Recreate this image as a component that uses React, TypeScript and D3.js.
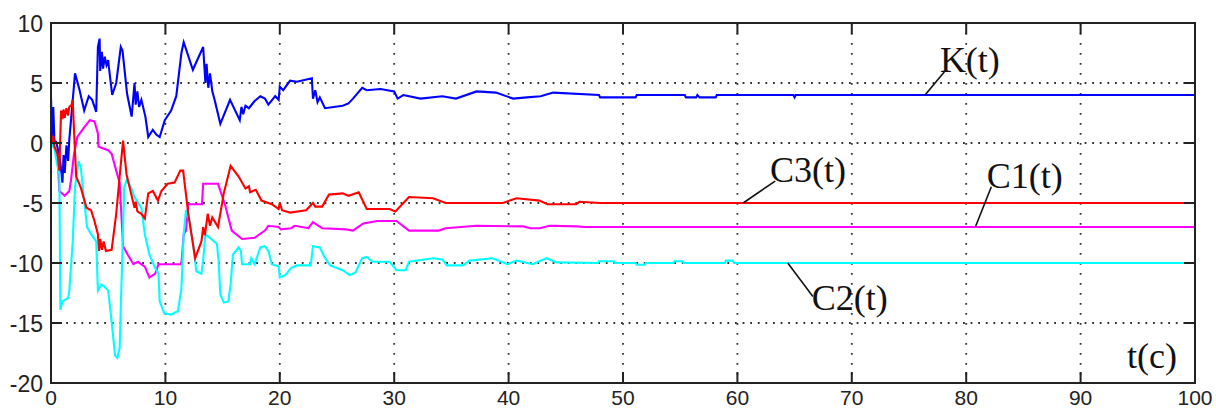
import React, { useRef, useEffect } from 'react';
import * as d3 from 'd3';

// K(t) - blue
const kData: [number, number][] = [
  [0, 3.8], [0.1, 0.5], [0.2, 3.0], [0.3, 0.2], [0.45, 0.1], [0.6, -0.5], [0.8, -1.5], [1.0, -3.3],
  [1.1, -1.0], [1.2, -2.5], [1.35, -0.2], [1.5, -1.5], [1.6, 0.3], [1.75, 1.9], [2.1, 5.8], [2.5, 4.4],
  [2.9, 2.7], [3.3, 3.9], [3.6, 3.6], [3.95, 2.6], [4.1, 8.0], [4.25, 8.7], [4.3, 6.0], [4.45, 7.6],
  [4.55, 6.2], [4.7, 7.2], [4.85, 6.5], [5.0, 6.9], [5.05, 6.4], [5.35, 4.0], [5.7, 5.0], [6.1, 8.0],
  [6.25, 7.7], [6.65, 4.1], [7.05, 2.2], [7.3, 5.0], [7.4, 3.2], [7.55, 4.3], [7.7, 3.0], [7.9, 3.6],
  [8.25, 2.2], [8.5, 0.5], [8.9, 1.1], [9.2, 0.7], [9.5, 0.5], [9.95, 1.9], [10.5, 2.7], [10.95, 3.9],
  [11.4, 7.5], [11.6, 8.4], [12.4, 6.1], [13.3, 8.0], [13.5, 5.0], [13.6, 6.6], [13.75, 4.6], [13.9, 5.8],
  [14.1, 4.3], [14.3, 3.6], [14.8, 1.6], [15.65, 3.6], [16.5, 1.9], [16.65, 3.0], [16.8, 2.4], [17.0, 3.1],
  [17.3, 2.9], [17.8, 3.5], [18.3, 3.9], [18.7, 3.7], [19.0, 3.2], [19.6, 3.9], [19.9, 3.6], [20.0, 4.7],
  [20.3, 4.4], [20.9, 5.2], [21.5, 5.1], [22.8, 5.4], [22.9, 3.7], [23.1, 4.4], [23.3, 3.4], [23.5, 3.8],
  [23.95, 2.9], [25.5, 3.1], [26.0, 3.3], [26.4, 3.7], [27.2, 4.6], [27.6, 4.4], [28.8, 4.5], [30.0, 4.3],
  [30.3, 3.7], [30.8, 4.0], [32.3, 3.7], [34.2, 3.9], [35.4, 3.7], [37.2, 4.3], [38.9, 4.2], [40.4, 3.7],
  [41.6, 3.8], [42.8, 3.9], [43.9, 4.2], [47.9, 4.0], [48.0, 3.8], [51.1, 3.8], [51.2, 4.0], [55.4, 4.0],
  [55.5, 3.8], [56.4, 3.8], [56.5, 4.0], [56.7, 3.8], [58.1, 3.8], [58.2, 4.0], [64.9, 4.0], [65.0, 3.8],
  [65.1, 4.0], [100, 4.0],
];

// C3(t) - red
const c3Data: [number, number][] = [
  [0, 0.8], [0.1, 0.0], [0.2, 0.6], [0.3, -0.3], [0.58, -0.9], [0.73, -2.3], [0.88, 2.7], [1.0, 2.0],
  [1.1, 2.8], [1.2, 2.1], [1.35, 2.9], [1.5, 2.3], [1.6, 3.0], [1.8, 3.2], [1.9, 3.6], [2.0, 1.3],
  [2.2, -2.8], [2.6, -3.7], [3.1, -5.4], [3.5, -5.6], [3.8, -6.5], [4.1, -7.6], [4.2, -9.0], [4.3, -8.0],
  [4.45, -8.9], [4.6, -8.2], [4.8, -9.0], [5.3, -8.9], [5.7, -5.9], [6.0, -2.8], [6.3, 0.2], [6.6, -2.6],
  [7.0, -4.2], [7.3, -5.4], [7.4, -4.9], [7.55, -5.7], [7.9, -5.9], [8.2, -6.3], [8.5, -4.2], [8.9, -4.0],
  [9.35, -4.8], [9.65, -4.0], [10.2, -3.4], [10.8, -3.3], [11.3, -2.3], [11.55, -2.3], [12.0, -5.9],
  [12.6, -9.6], [13.15, -8.2], [13.3, -7.0], [13.45, -7.7], [13.7, -5.9], [13.9, -6.9], [14.1, -6.2],
  [14.6, -7.0], [15.1, -4.2], [15.7, -1.9], [16.4, -2.8], [17.0, -3.8], [17.3, -3.6], [17.4, -4.1],
  [17.9, -3.9], [18.4, -4.8], [19.3, -5.1], [19.9, -5.5], [20.0, -5.0], [20.2, -5.6], [20.9, -5.8],
  [22.3, -5.6], [22.9, -5.0], [23.1, -5.3], [23.7, -5.3], [24.3, -4.3], [25.5, -4.2], [26.0, -4.4],
  [26.9, -4.1], [27.6, -5.5], [29.6, -5.5], [30.1, -5.7], [31.3, -4.5], [33.4, -4.6], [34.5, -5.0],
  [36.6, -5.0], [39.5, -5.0], [40.7, -4.6], [42.7, -4.8], [43.4, -5.1], [45.9, -5.1], [46.2, -4.9],
  [48.0, -5.0], [100, -5.0],
];

// C1(t) - magenta
const c1Data: [number, number][] = [
  [0, 0.2], [0.3, -0.3], [0.58, -1.2], [0.73, -4.0], [1.2, -4.4], [1.6, -4.0], [1.75, -3.1], [2.0, -1.0],
  [2.3, 0.5], [2.9, 1.3], [3.4, 1.9], [3.8, 1.8], [4.1, 0.8], [4.15, -0.3], [4.4, -0.4], [5.0, -0.6],
  [5.3, -0.9], [5.7, -2.3], [6.0, -3.3], [6.3, -8.6], [6.7, -9.3], [7.2, -10.1], [7.6, -9.9], [8.2, -10.3],
  [8.6, -11.2], [9.1, -10.9], [9.4, -10.1], [10.2, -10.1], [11.4, -10.1], [11.6, -7.6], [11.8, -7.3],
  [12.0, -5.1], [13.2, -5.1], [13.3, -3.4], [14.6, -3.4], [15.2, -5.1], [15.8, -7.3], [16.7, -8.0],
  [17.8, -7.9], [18.7, -7.3], [19.0, -6.9], [19.9, -7.0], [20.1, -7.2], [21.0, -7.1], [21.3, -6.9],
  [22.5, -7.1], [22.9, -6.6], [23.7, -7.1], [25.8, -7.2], [26.4, -7.3], [27.3, -6.7], [28.5, -6.5],
  [30.2, -6.5], [31.3, -7.3], [33.9, -7.3], [34.5, -7.1], [37.2, -6.9], [41.3, -6.95], [41.9, -7.1],
  [42.7, -7.1], [43.6, -6.9], [46.0, -6.95], [46.6, -7.0], [100, -7.0],
];

// C2(t) - cyan
const c2Data: [number, number][] = [
  [0, 0], [0.3, -0.5], [0.58, -2.0], [0.73, -2.6], [0.82, -13.9], [1.0, -13.2], [1.5, -12.9], [1.6, -12.3],
  [1.9, -8.2], [2.1, -3.7], [2.4, -1.5], [2.6, -2.0], [2.9, -4.8], [3.15, -7.0], [3.5, -7.6], [3.95, -8.2],
  [4.1, -12.3], [4.4, -11.8], [4.7, -12.0], [5.0, -12.3], [5.3, -14.9], [5.6, -17.7], [5.8, -17.9],
  [6.0, -17.1], [6.2, -10.4], [6.4, -3.7], [6.6, -3.1], [7.0, -3.7], [7.3, -4.5], [7.9, -5.4], [8.2, -7.6],
  [8.6, -9.3], [9.1, -10.4], [9.4, -10.9], [9.5, -13.2], [9.9, -14.2], [10.5, -14.3], [11.1, -14.0],
  [11.4, -12.1], [11.6, -7.6], [11.8, -5.6], [12.1, -6.5], [12.4, -8.2], [12.7, -10.7], [13.15, -10.9],
  [13.3, -9.8], [13.5, -7.6], [14.0, -8.0], [14.5, -8.4], [14.65, -9.8], [14.8, -12.6], [15.1, -13.3],
  [15.5, -13.2], [15.7, -11.8], [15.9, -9.3], [16.4, -8.7], [16.6, -9.0], [16.7, -10.1], [17.4, -10.1],
  [17.5, -9.6], [17.8, -10.1], [18.3, -8.7], [18.7, -8.6], [19.0, -9.0], [19.3, -10.1], [19.9, -10.3],
  [20.0, -11.2], [20.5, -11.0], [21.0, -10.4], [21.5, -10.2], [22.7, -10.2], [22.9, -8.6], [23.5, -8.7],
  [23.9, -9.5], [24.4, -10.2], [25.5, -10.6], [26.1, -11.0], [26.6, -10.8], [27.2, -9.6], [27.6, -9.5],
  [28.1, -9.9], [29.6, -9.9], [30.2, -10.6], [31.0, -10.6], [31.3, -9.9], [33.4, -9.6], [34.2, -9.7],
  [34.6, -10.2], [36.0, -10.2], [36.6, -9.8], [38.6, -9.6], [39.9, -10.1], [40.7, -9.8], [42.1, -10.1],
  [43.3, -9.6], [44.2, -9.95], [47.8, -10.0], [47.9, -9.86], [49.2, -9.86], [49.3, -10.0], [51.1, -10.0],
  [51.2, -10.15], [51.9, -10.15], [52.0, -10.0], [54.4, -10.0], [54.5, -9.86], [55.2, -9.86], [55.3, -10.0],
  [58.9, -10.0], [59.0, -9.8], [59.6, -9.8], [59.7, -10.0], [100, -10.0],
];

const xTicks = [0, 10, 20, 30, 40, 50, 60, 70, 80, 90, 100];
const yTicks = [-20, -15, -10, -5, 0, 5, 10];

// label text, text anchor (t, v), pointer from (t, v) to (t, v)
const labels = [
  { text: 'K(t)', at: [77.7, 5.94], from: [76.4, 4.0], to: [78.1, 5.94] },
  { text: 'C3(t)', at: [62.85, -3.25], from: [60.5, -5.0], to: [63.3, -3.17] },
  { text: 'C1(t)', at: [81.8, -3.75], from: [80.8, -7.0], to: [82.2, -3.64] },
  { text: 'C2(t)', at: [66.5, -13.9], from: [64.4, -10.0], to: [66.6, -12.8] },
];

const Chart = () => {
  const svgRef = useRef<SVGSVGElement>(null);

  useEffect(() => {
    const width = 1216;
    const height = 410;
    const svg = d3.select(svgRef.current)
      .attr('width', width)
      .attr('height', height);
    svg.selectAll('*').remove();

    const x = d3.scaleLinear().domain([0, 100]).range([51, 1195]);
    const y = d3.scaleLinear().domain([-20, 10]).range([383, 23]);
    const [x0, x1] = x.range();
    const [y0, y1] = y.range();

    // grid
    svg.selectAll('.hgrid')
      .data(yTicks.filter(d => d > -20 && d < 10))
      .enter().append('line')
      .attr('x1', x0).attr('x2', x1)
      .attr('y1', d => y(d)).attr('y2', d => y(d))
      .attr('stroke', '#333')
      .attr('stroke-width', 1.8)
      .attr('stroke-dasharray', '1.8,5.8');

    svg.selectAll('.vgrid')
      .data(xTicks.filter(d => d > 0 && d < 100))
      .enter().append('line')
      .attr('x1', d => x(d)).attr('x2', d => x(d))
      .attr('y1', y1).attr('y2', y0)
      .attr('stroke', '#333')
      .attr('stroke-width', 1.8)
      .attr('stroke-dasharray', '1.8,8.2');

    // curves
    const line = d3.line<[number, number]>()
      .x(d => x(d[0]))
      .y(d => y(d[1]));

    const series: [[number, number][], string][] = [
      [kData, '#0000ff'],
      [c1Data, '#ff00ff'],
      [c2Data, '#00ffff'],
      [c3Data, '#ff0000'],
    ];
    series.forEach(([data, color]) => {
      svg.append('path')
        .datum(data)
        .attr('d', line)
        .attr('fill', 'none')
        .attr('stroke', color)
        .attr('stroke-width', 2.1)
        .attr('stroke-linejoin', 'miter');
    });

    // box + inward ticks
    svg.append('rect')
      .attr('x', x0).attr('y', y1)
      .attr('width', x1 - x0).attr('height', y0 - y1)
      .attr('fill', 'none')
      .attr('stroke', '#222')
      .attr('stroke-width', 2);

    const tickLen = 11;
    xTicks.forEach(d => {
      svg.append('line').attr('x1', x(d)).attr('x2', x(d)).attr('y1', y0).attr('y2', y0 - tickLen)
        .attr('stroke', '#222').attr('stroke-width', 2);
      svg.append('line').attr('x1', x(d)).attr('x2', x(d)).attr('y1', y1).attr('y2', y1 + tickLen)
        .attr('stroke', '#222').attr('stroke-width', 2);
    });
    yTicks.forEach(d => {
      svg.append('line').attr('x1', x0).attr('x2', x0 + tickLen).attr('y1', y(d)).attr('y2', y(d))
        .attr('stroke', '#222').attr('stroke-width', 2);
      svg.append('line').attr('x1', x1).attr('x2', x1 - tickLen).attr('y1', y(d)).attr('y2', y(d))
        .attr('stroke', '#222').attr('stroke-width', 2);
    });

    // tick labels
    svg.selectAll('.ylab')
      .data(yTicks)
      .enter().append('text')
      .attr('x', 43)
      .attr('y', d => y(d) + 9)
      .attr('text-anchor', 'end')
      .attr('font-family', '"Liberation Sans", Arial, sans-serif')
      .attr('font-size', 23)
      .attr('fill', '#222')
      .text(d => d);

    svg.selectAll('.xlab')
      .data(xTicks)
      .enter().append('text')
      .attr('x', d => x(d))
      .attr('y', 405)
      .attr('text-anchor', 'middle')
      .attr('font-family', '"Liberation Sans", Arial, sans-serif')
      .attr('font-size', 21)
      .attr('fill', '#222')
      .text(d => d);

    // curve labels with pointers
    labels.forEach(l => {
      svg.append('line')
        .attr('x1', x(l.from[0])).attr('y1', y(l.from[1]))
        .attr('x2', x(l.to[0])).attr('y2', y(l.to[1]))
        .attr('stroke', '#111')
        .attr('stroke-width', 1.6);
      svg.append('text')
        .attr('x', x(l.at[0]))
        .attr('y', y(l.at[1]))
        .attr('font-family', '"Liberation Serif", "Times New Roman", serif')
        .attr('font-size', 36)
        .attr('fill', '#111')
        .text(l.text);
    });

    svg.append('text')
      .attr('x', x(94.05))
      .attr('y', y(-18.75))
      .attr('font-family', '"Liberation Serif", "Times New Roman", serif')
      .attr('font-size', 36)
      .attr('fill', '#111')
      .text('t(c)');
  }, []);

  return <svg ref={svgRef} style={{ position: 'absolute', left: 0, top: 0, background: '#fff' }}></svg>;
};

export default function App() {
  return <Chart />;
}
